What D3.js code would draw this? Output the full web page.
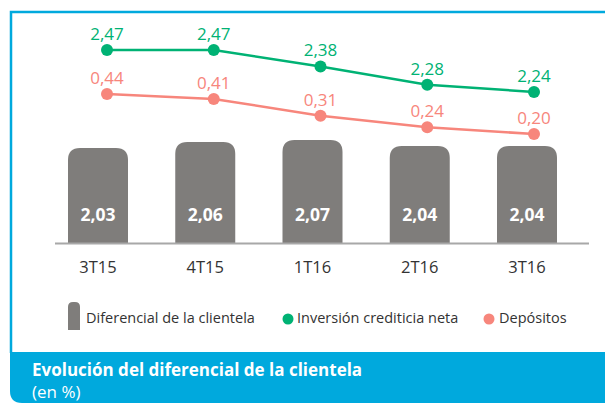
<!DOCTYPE html>
<html>
<head>
<meta charset="utf-8">
<script src="https://cdn.jsdelivr.net/npm/d3@7"></script>
<style>
  body { margin: 0; background: #fff; }
  svg { display: block; font-family: "Open Sans", sans-serif; }
</style>
</head>
<body>
<div id="chart"></div>
<script>
const categories = ["3T15", "4T15", "1T16", "2T16", "3T16"];
const diferencial = [2.03, 2.06, 2.07, 2.04, 2.04];
const inversion = [2.47, 2.47, 2.38, 2.28, 2.24];
const depositos = [0.44, 0.41, 0.31, 0.24, 0.20];
const legendLabels = ["Diferencial de la clientela", "Inversión crediticia neta", "Depósitos"];
const title = "Evolución del diferencial de la clientela";
const subtitle = "(en %)";

const width = 605, height = 403;
const blue = "#00a9dd", gray = "#7f7d7b", green = "#00b274", red = "#f7867c";
const fmt = v => d3.format(".2f")(v).replace(".", ",");

const svg = d3.select("#chart").append("svg")
  .attr("width", width)
  .attr("height", height);

// frame
svg.append("path")
  .attr("d", "M11,353 V12 H605")
  .attr("fill", "none")
  .attr("stroke", blue)
  .attr("stroke-width", 2.5);

// footer
svg.append("path")
  .attr("d", `M10,352 H605 V403 H22 Q10,403 10,391 Z`)
  .attr("fill", blue);

svg.append("text")
  .attr("x", 32).attr("y", 376)
  .attr("fill", "#fff")
  .style("font-size", "17px")
  .style("font-weight", "bold")
  .text(title);

svg.append("text")
  .attr("x", 32).attr("y", 398)
  .attr("fill", "#fff")
  .style("font-size", "17px")
  .text(subtitle);

// scales
const baseline = 243;
const xBar = d3.scalePoint().domain(categories).range([98, 527]);
const xLine = d3.scalePoint().domain(categories).range([107, 534]);
const yBar = d3.scaleLinear().domain([1.555, 2.07]).range([baseline, 140]);
const yInv = d3.scaleLinear().domain([2.24, 2.47]).range([92, 50]);
const yDep = d3.scaleLinear().domain([0.20, 0.44]).range([134, 94]);

const barW = 60, r = 12;
const barPath = (cx, top, bottom, w, rad) => {
  const x0 = cx - w / 2, x1 = cx + w / 2;
  return `M${x0},${bottom} V${top + rad} Q${x0},${top} ${x0 + rad},${top} H${x1 - rad} Q${x1},${top} ${x1},${top + rad} V${bottom} Z`;
};

svg.selectAll(".bar")
  .data(diferencial)
  .enter()
  .append("path")
  .attr("class", "bar")
  .attr("d", (d, i) => barPath(xBar(categories[i]), yBar(d), baseline, barW, r))
  .attr("fill", gray);

svg.append("line")
  .attr("x1", 55).attr("x2", 589)
  .attr("y1", baseline + 0.5).attr("y2", baseline + 0.5)
  .attr("stroke", "#a8a8a8")
  .attr("stroke-width", 2);

svg.selectAll(".barlabel")
  .data(diferencial)
  .enter()
  .append("text")
  .attr("x", (d, i) => xBar(categories[i]))
  .attr("y", 221)
  .attr("text-anchor", "middle")
  .attr("fill", "#fff")
  .style("font-size", "17.5px")
  .style("font-weight", "bold")
  .text(d => fmt(d));

svg.selectAll(".cat")
  .data(categories)
  .enter()
  .append("text")
  .attr("x", d => xBar(d))
  .attr("y", 273)
  .attr("text-anchor", "middle")
  .attr("fill", "#333")
  .style("font-size", "16.5px")
  .text(d => d);

// lines
[[inversion, yInv, green], [depositos, yDep, red]].forEach(([vals, y, c]) => {
  const line = d3.line()
    .x((d, i) => xLine(categories[i]))
    .y(d => y(d));

  svg.append("path")
    .datum(vals)
    .attr("d", line)
    .attr("fill", "none")
    .attr("stroke", c)
    .attr("stroke-width", 2.5);

  svg.selectAll(null)
    .data(vals)
    .enter()
    .append("circle")
    .attr("cx", (d, i) => xLine(categories[i]))
    .attr("cy", d => y(d))
    .attr("r", 6)
    .attr("fill", c);

  svg.selectAll(null)
    .data(vals)
    .enter()
    .append("text")
    .attr("x", (d, i) => xLine(categories[i]))
    .attr("y", d => y(d) - 10)
    .attr("text-anchor", "middle")
    .attr("fill", c)
    .style("font-size", "17px")
    .text(d => fmt(d));
});

// legend
const leg = svg.append("g");
leg.append("path")
  .attr("d", barPath(74, 302, 330, 12, 5))
  .attr("fill", gray);
leg.append("text")
  .attr("x", 86).attr("y", 323)
  .attr("fill", "#333")
  .style("font-size", "14.5px")
  .text(legendLabels[0]);
leg.append("circle")
  .attr("cx", 288).attr("cy", 319).attr("r", 5.5)
  .attr("fill", green);
leg.append("text")
  .attr("x", 297).attr("y", 323)
  .attr("fill", "#333")
  .style("font-size", "14.5px")
  .text(legendLabels[1]);
leg.append("circle")
  .attr("cx", 489).attr("cy", 319).attr("r", 5.5)
  .attr("fill", red);
leg.append("text")
  .attr("x", 499).attr("y", 323)
  .attr("fill", "#333")
  .style("font-size", "14.5px")
  .text(legendLabels[2]);
</script>
</body>
</html>
